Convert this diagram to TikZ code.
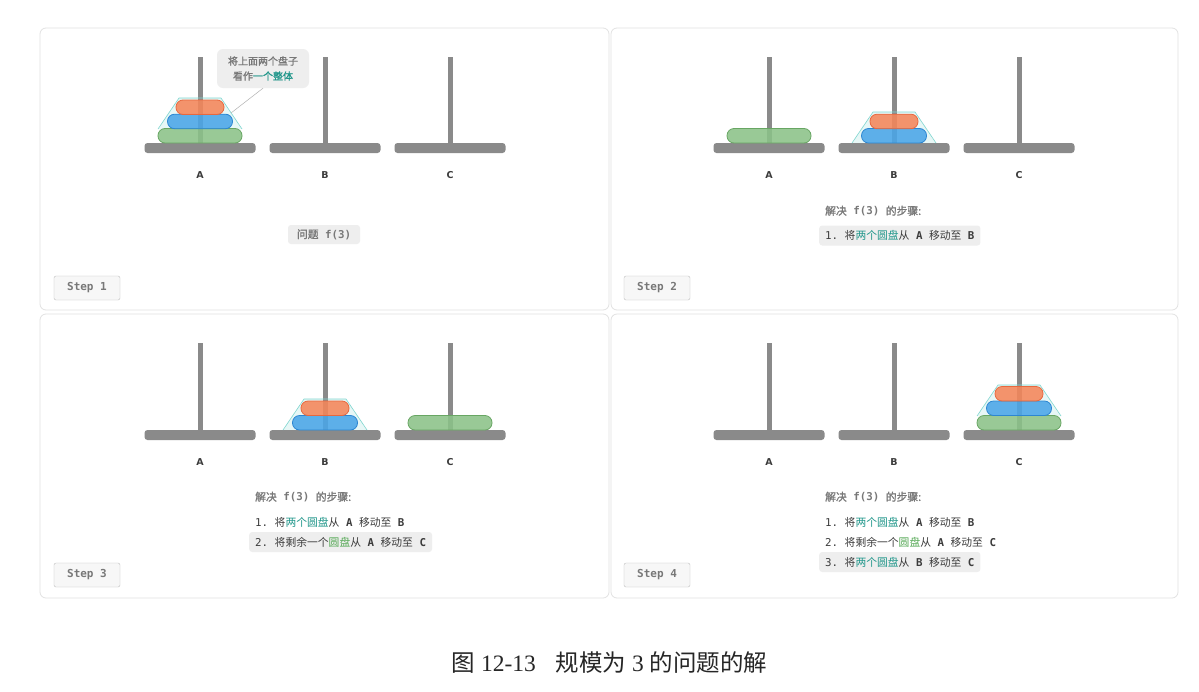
\documentclass[tikz,border=0pt]{standalone}
\usepackage{fontspec}
\newfontfamily\cjk{Noto Sans CJK SC}
\newfontfamily\cjkb{Noto Sans CJK SC}[FakeBold=1.2]
\newfontfamily\mono{DejaVu Sans Mono}
\newfontfamily\sansb{DejaVu Sans Bold}
\newfontfamily\capserif{Liberation Serif}
\definecolor{pegc}{RGB}{138,138,138}
\definecolor{orfill}{RGB}{245,134,90}
\definecolor{orline}{RGB}{232,104,62}
\definecolor{blfill}{RGB}{74,166,232}
\definecolor{blline}{RGB}{44,134,210}
\definecolor{grfill}{RGB}{139,194,136}
\definecolor{grline}{RGB}{104,166,99}
\definecolor{trapfill}{RGB}{225,246,244}
\definecolor{trapline}{RGB}{128,214,208}
\definecolor{tealtxt}{RGB}{32,150,138}
\definecolor{greentxt}{RGB}{84,168,84}
\definecolor{graytxt}{RGB}{120,120,120}
\definecolor{darktxt}{RGB}{60,60,60}
\definecolor{boxgray}{RGB}{238,238,238}
\definecolor{panelline}{RGB}{226,226,226}
\newcommand\zh[1]{{\cjk #1}}
\newcommand\drawpeg[3]{%
  \draw[pegc, line width=5] (#1,#2) -- (#1,#3);
  \fill[pegc, rounded corners=3] (#1-55.5,#3) rectangle (#1+55.5,#3+10);}
\newcommand\disk[4]{%
  \draw[fill=#1fill, draw=#1line, fill opacity=0.88, rounded corners=7, line width=0.8] (#2-#4,#3) rectangle (#2+#4,#3+14.5);}
\newcommand\trapfill[2]{%
  \fill[trapfill, fill opacity=0.8] (#1-42,#2) -- (#1-21,#2-31) -- (#1+21,#2-31) -- (#1+42,#2) -- cycle;}
\newcommand\trapdraw[2]{%
  \draw[trapline, line width=0.6] (#1-42,#2) -- (#1-21,#2-31) -- (#1+21,#2-31) -- (#1+42,#2);}
\tikzset{
  panel/.style={draw=panelline, fill=white, rounded corners=6, line width=0.8},
  steplabel/.style={draw=black!25, fill=black!3, rounded corners=2, minimum width=66, minimum height=24, inner sep=0, text=graytxt, font=\mono\bfseries\fontsize{11}{12}\selectfont},
  peglabel/.style={text=darktxt, font=\sansb\fontsize{9.5}{10}\selectfont},
  line/.style={anchor=west, inner xsep=6, inner ysep=0, minimum height=20, rounded corners=3, text=darktxt, font=\fontsize{10.8}{12}\selectfont},
  hl/.style={line, fill=boxgray},
  head/.style={anchor=west, inner sep=0, text=graytxt, font=\fontsize{10.8}{12}\selectfont},
}
\newcommand\lA{{\mono 1.\ }\zh{将\textcolor{tealtxt}{两个圆盘}从}{\mono\bfseries\ A\ }\zh{移动至}{\mono\bfseries\ B}}
\newcommand\lB{{\mono 2.\ }\zh{将剩余一个\textcolor{greentxt}{圆盘}从}{\mono\bfseries\ A\ }\zh{移动至}{\mono\bfseries\ C}}
\newcommand\lC{{\mono 3.\ }\zh{将\textcolor{tealtxt}{两个圆盘}从}{\mono\bfseries\ B\ }\zh{移动至}{\mono\bfseries\ C}}
\newcommand\headtxt{{\cjkb 解决}{\mono\bfseries\ f(3)\ }{\cjkb 的步骤:}}
\begin{document}
\begin{tikzpicture}[x=1pt,y=-1pt]
\useasboundingbox (0,0) rectangle (1199,691);
\fill[white] (0,0) rectangle (1199,691);
% panels
\draw[panel] (40,28) rectangle (609,310);
\draw[panel] (611,28) rectangle (1178,310);
\draw[panel] (40,314) rectangle (609,598);
\draw[panel] (611,314) rectangle (1178,598);
% trapezoid fills
\trapfill{200}{129}
\trapfill{894}{143}
\trapfill{325}{430}
\trapfill{1019}{416}
% pegs
\foreach \x in {200,325,450} {\drawpeg{\x}{57}{143} \drawpeg{\x}{343}{430}}
\foreach \x in {769,894,1019} {\drawpeg{\x}{57}{143} \drawpeg{\x}{343}{430}}
% peg labels
\foreach \x/\l in {200/A,325/B,450/C} {
  \node[peglabel] (p1\l) at (\x,175) {\l};
  \node[peglabel] (p3\l) at (\x,462) {\l};}
\foreach \x/\l in {769/A,894/B,1019/C} {
  \node[peglabel] (p2\l) at (\x,175) {\l};
  \node[peglabel] (p4\l) at (\x,462) {\l};}
% disks panel 1
\disk{gr}{200}{128.5}{42}
\disk{bl}{200}{114.2}{32.5}
\disk{or}{200}{100}{24}
% panel 2
\disk{gr}{769}{128.5}{42}
\disk{bl}{894}{128.5}{32.5}
\disk{or}{894}{114.2}{24}
% panel 3
\disk{bl}{325}{415.5}{32.5}
\disk{or}{325}{401}{24}
\disk{gr}{450}{415.5}{42}
% panel 4
\disk{gr}{1019}{415.5}{42}
\disk{bl}{1019}{401}{32.5}
\disk{or}{1019}{386.5}{24}
% trapezoid outlines
\trapdraw{200}{129}
\trapdraw{894}{143}
\trapdraw{325}{430}
\trapdraw{1019}{416}
% callout
\node[fill=boxgray, rounded corners=6, minimum width=92, minimum height=39, inner sep=2, align=center, text=graytxt, font=\cjkb\fontsize{10}{15}\selectfont] (callout) at (263,68.5) {将上面两个盘子\\看作\textcolor{tealtxt}{一个整体}};
\coordinate (ctip) at (231,113);
\draw[black!30, line width=0.5] (callout.south) -- (ctip);
% panel 1 text
\node[fill=boxgray, rounded corners=3, minimum width=72, minimum height=19, inner sep=0, text=graytxt, font=\fontsize{10.8}{12}\selectfont] (q1) at (324,234.5) {{\cjkb 问题}{\mono\bfseries\ f(3)}};
% panel 2 text
\node[head] (h2) at (825,211) {\headtxt};
\node[hl] (l21) at (819,235.5) {\lA};
% panel 3 text
\node[head] (h3) at (255,497) {\headtxt};
\node[line] (l31) at (249,522) {\lA};
\node[hl] (l32) at (249,542) {\lB};
% panel 4 text
\node[head] (h4) at (825,497) {\headtxt};
\node[line] (l41) at (819,522) {\lA};
\node[line] (l42) at (819,542) {\lB};
\node[hl] (l43) at (819,562) {\lC};
% step labels
\node[steplabel] (s1) at (87,288) {Step 1};
\node[steplabel] (s2) at (657,288) {Step 2};
\node[steplabel] (s3) at (87,575) {Step 3};
\node[steplabel] (s4) at (657,575) {Step 4};
% caption
\node[font=\capserif\fontsize{23.5}{26}\selectfont, text=black!85] (cap) at (609.5,663) {\zh{图} 12-13\hspace{20pt}\zh{规模为} 3 \zh{的问题的解}};
\end{tikzpicture}
\end{document}
